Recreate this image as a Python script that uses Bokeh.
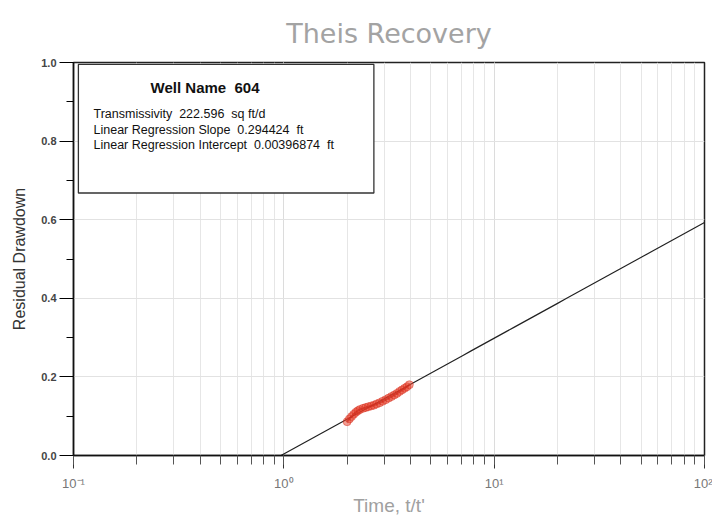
from bokeh.plotting import figure
from bokeh.models import Range1d, Label, BoxAnnotation, FixedTicker
from bokeh.embed import file_html
from bokeh.resources import INLINE
import numpy as np

# Recovery measurements: time ratio t/t' and residual drawdown (ft)
time_ratio = [2.00, 2.05, 2.10, 2.15, 2.20, 2.25, 2.30, 2.38, 2.45, 2.52,
              2.60, 2.68, 2.76, 2.85, 2.95, 3.05, 3.15, 3.25, 3.35, 3.45,
              3.55, 3.65, 3.75, 3.85, 3.95]
residual = [0.086, 0.093, 0.099, 0.105, 0.110, 0.114, 0.117, 0.120, 0.122, 0.124,
            0.126, 0.128, 0.131, 0.134, 0.138, 0.142, 0.146, 0.150, 0.154, 0.158,
            0.163, 0.167, 0.171, 0.175, 0.180]

# Regression results
well_name = "604"
transmissivity = "222.596"
slope = "0.294424"
intercept = "0.00396874"

x_ticks = [0.1, 1, 10, 100]
x_tick_labels = ["10\u207b\u00b9", "10\u2070", "10\u00b9", "10\u00b2"]
y_ticks = [0.0, 0.2, 0.4, 0.6, 0.8, 1.0]
y_minor = [0.1, 0.3, 0.5, 0.7, 0.9]

FONT = "Liberation Sans"
SP = "\u00a0"  # keeps double spacing in the SVG text

p = figure(width=712, height=518, x_axis_type="log",
           x_range=Range1d(0.1, 100), y_range=Range1d(0, 1),
           output_backend="svg", toolbar_location=None,
           min_border_left=73, min_border_right=8,
           min_border_top=62, min_border_bottom=62)

p.title.text = "Theis Recovery"
p.title.align = "center"
p.title.text_font = "DejaVu Sans"
p.title.text_font_size = "27px"
p.title.text_font_style = "normal"
p.title.text_color = "#a3a3a3"
p.title.standoff = 28

p.outline_line_color = "#222222"
p.outline_line_width = 1.5

# grid
p.xgrid.grid_line_color = "#dcdcdc"
p.xgrid.minor_grid_line_color = "#e6e6e6"
p.ygrid.grid_line_color = "#e2e2e2"
p.ygrid.ticker = FixedTicker(ticks=y_ticks)

# x axis
xa = p.xaxis[0]
xa.ticker.num_minor_ticks = 10
xa.major_label_overrides = {t: l for t, l in zip(x_ticks, x_tick_labels)}
xa.axis_label = "Time, t/t'"
xa.axis_label_text_font = FONT
xa.axis_label_text_font_style = "normal"
xa.axis_label_text_font_size = "19px"
xa.axis_label_text_color = "#a0a0a0"
xa.axis_label_standoff = 1
xa.major_label_text_font = FONT
xa.major_label_text_font_size = "13px"
xa.major_label_text_color = "#777777"
xa.major_label_standoff = 7
xa.major_tick_in = 0
xa.major_tick_out = 13
xa.minor_tick_in = 0
xa.minor_tick_out = 9
xa.axis_line_color = "#111111"
xa.axis_line_width = 1.5
xa.major_tick_line_color = "#333333"
xa.minor_tick_line_color = "#555555"

# y axis
ya = p.yaxis[0]
ya.ticker = FixedTicker(ticks=y_ticks, minor_ticks=y_minor)
ya.major_label_overrides = {t: f"{t:.1f}" for t in y_ticks}
ya.axis_label = "Residual Drawdown"
ya.axis_label_text_font = FONT
ya.axis_label_text_font_style = "normal"
ya.axis_label_text_font_size = "16px"
ya.axis_label_text_color = "#333333"
ya.axis_label_standoff = 10
ya.major_label_text_font = FONT
ya.major_label_text_font_size = "11px"
ya.major_label_text_font_style = "bold"
ya.major_label_text_color = "#444444"
ya.major_label_standoff = 3
ya.major_tick_in = 0
ya.major_tick_out = 14
ya.minor_tick_in = 0
ya.minor_tick_out = 7
ya.axis_line_color = "#111111"
ya.axis_line_width = 1.5

# regression line from where it crosses zero to the right edge
m, b = float(slope), float(intercept)
x0 = 10 ** (-b / m)
line_x = np.logspace(np.log10(x0), 2, 50)
line_y = m * np.log10(line_x) + b
p.line(line_x, line_y, line_color="#222222", line_width=1.2)

# measured points
p.scatter(time_ratio, residual, size=8, fill_color="#e8402a", fill_alpha=0.5,
          line_color="#d42a1a", line_alpha=0.45)
p.line(time_ratio, residual, line_color="#c8281a", line_width=2, line_alpha=0.6)

# info box (data coordinates on the log axis)
p.add_layout(BoxAnnotation(left=0.1055, right=2.68, top=0.995, bottom=0.668,
                           fill_color="white", fill_alpha=1.0,
                           line_color="#333333", line_alpha=1.0, line_width=1.3))

info_lines = [
    (f"Well Name{SP}{SP}{well_name}", 0.2325, 0.937, "bold", "15px"),
    (f"Transmissivity{SP}{SP}{transmissivity}{SP}{SP}sq ft/d", 0.1245, 0.869, "normal", "12.5px"),
    (f"Linear Regression Slope{SP}{SP}{slope}{SP}{SP}ft", 0.1245, 0.829, "normal", "12.5px"),
    (f"Linear Regression Intercept{SP}{SP}{intercept}{SP}{SP}ft", 0.1245, 0.789, "normal", "12.5px"),
]
for txt, x, y, style, size in info_lines:
    p.add_layout(Label(x=x, y=y, text=txt, text_font=FONT, text_font_style=style,
                       text_font_size=size, text_color="#111111",
                       text_baseline="middle"))

open("out.html", "w").write(file_html(p, INLINE))
